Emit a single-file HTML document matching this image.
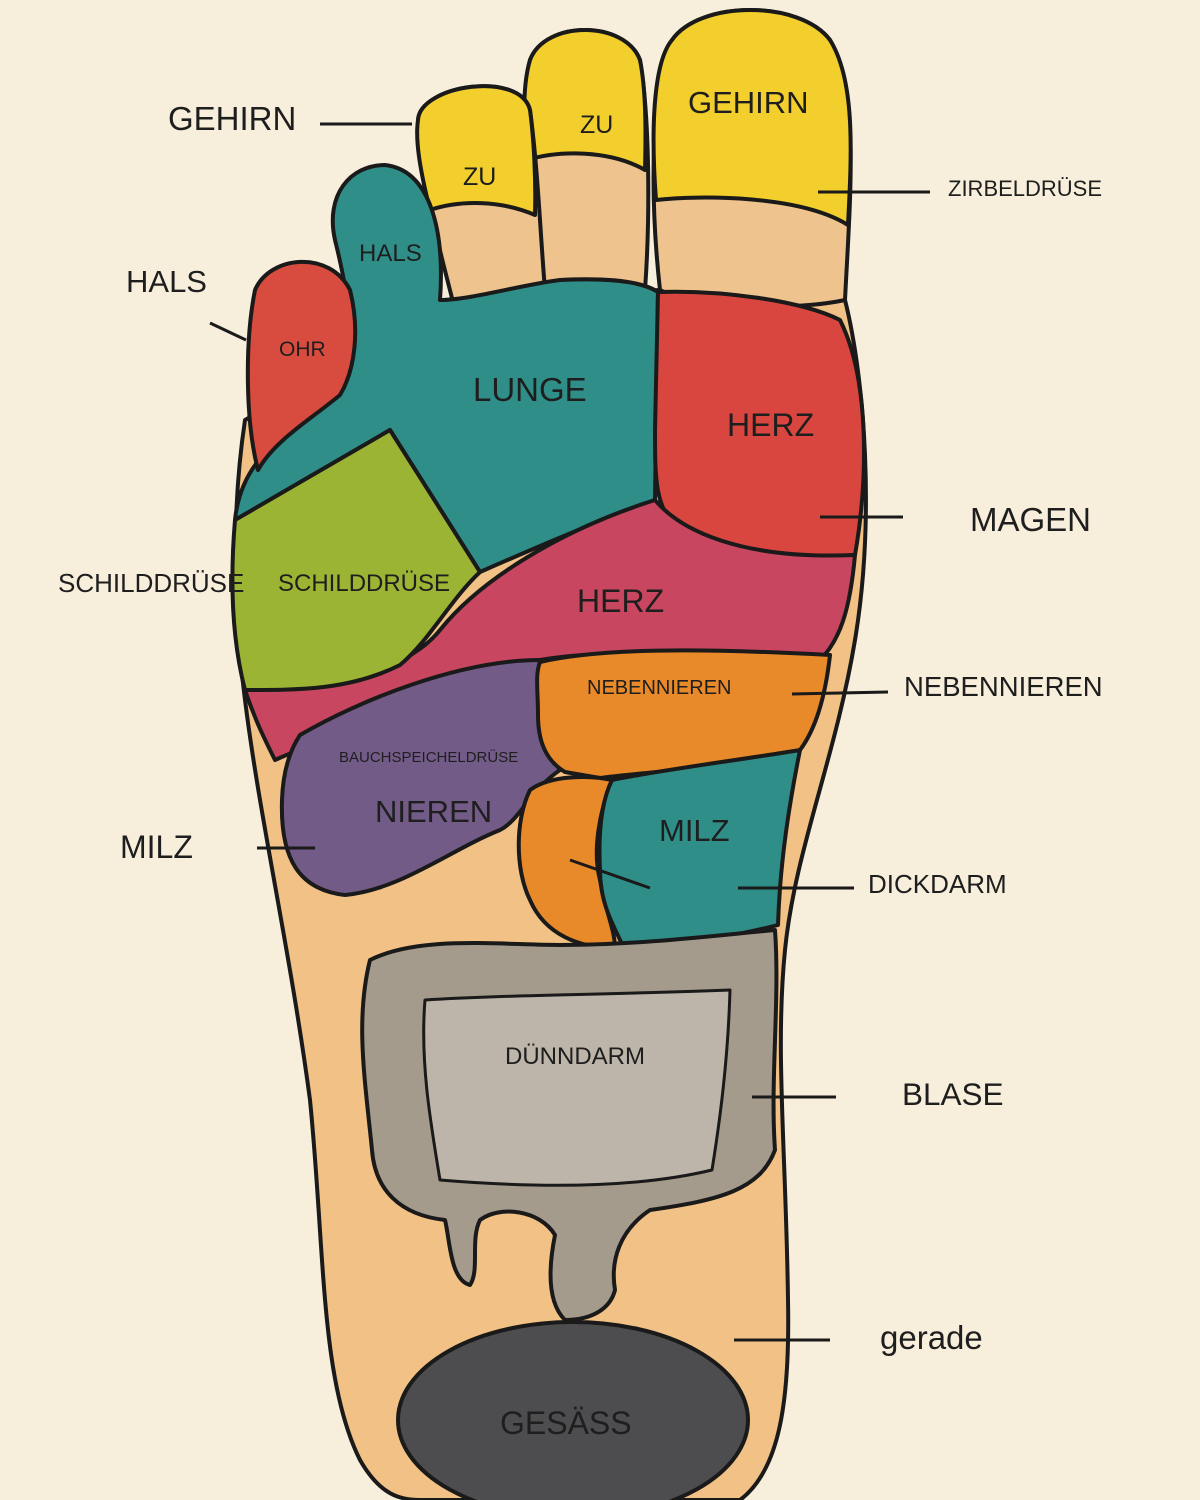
<!DOCTYPE html>
<html><head><meta charset="utf-8"><style>
html,body{margin:0;padding:0;background:#f7eedb;}
svg{display:block}
text{font-family:"Liberation Sans",sans-serif;fill:#1e1e1e;}
</style></head><body>
<svg width="1200" height="1500" viewBox="0 0 1200 1500" xmlns="http://www.w3.org/2000/svg">
<rect width="1200" height="1500" fill="#f7eedb"/>
<g stroke="#1a1a1a" stroke-width="4" stroke-linejoin="round">
<path d="M245,420 C230,520 235,620 245,700 C260,820 290,950 310,1100 C325,1250 320,1380 360,1460 C380,1495 400,1500 420,1500 L740,1500 C780,1470 790,1400 788,1300 C786,1150 775,1050 785,950 C795,850 835,760 855,640 C875,520 865,380 845,300 L660,290 L455,300 Z" fill="#f1c185"/>
<path d="M660,290 C650,200 650,90 672,40 C700,0 800,0 830,40 C860,90 850,200 845,300 C800,310 700,310 660,290 Z" fill="#eec38e"/>
<path d="M656,200 C650,120 655,60 672,40 C700,0 800,0 830,40 C855,80 852,150 848,225 C800,195 700,195 656,200 Z" fill="#f2cf2c"/>
<path d="M545,285 C528,220 520,120 530,60 C545,20 625,20 640,60 C650,120 650,220 645,290 Z" fill="#eec38e"/>
<path d="M527,160 C522,110 524,80 530,60 C545,20 625,20 640,60 C646,90 646,130 645,170 C610,150 560,150 527,160 Z" fill="#f2cf2c"/>
<path d="M455,310 C440,250 420,180 418,120 C420,85 520,70 530,110 C538,170 540,230 545,290 Z" fill="#eec38e"/>
<path d="M430,210 C420,170 415,140 418,120 C420,85 520,70 530,110 C534,140 536,180 535,215 C500,200 460,200 430,210 Z" fill="#f2cf2c"/>
<path d="M235,520 C240,470 270,440 330,400 C360,360 350,300 335,240 C325,195 350,165 385,165 C430,170 445,230 440,300 C470,300 520,285 560,280 C600,278 640,280 658,292 L655,500 C600,520 530,550 480,572 L390,430 Z" fill="#2f8f88"/>
<path d="M258,470 C245,420 245,340 255,290 C270,255 330,250 350,290 C360,330 355,370 340,395 C310,420 275,440 258,470 Z" fill="#d84c3f"/>
<path d="M658,292 C720,290 800,300 840,320 C870,380 868,480 855,555 C800,560 720,555 680,530 C655,510 655,480 655,430 Z" fill="#d8463f"/>
<path d="M245,690 C320,680 400,680 440,630 C480,580 560,530 655,500 C680,530 740,560 855,555 C850,610 840,640 820,660 C700,650 600,650 540,660 L440,700 C380,720 320,740 275,760 C265,740 255,720 245,690 Z" fill="#c94660"/>
<path d="M235,520 L390,430 L480,572 C450,600 430,640 400,665 C350,690 300,690 245,690 C232,640 230,580 235,520 Z" fill="#9cb434"/>
<path d="M300,735 C360,700 460,660 540,660 C545,700 540,740 560,770 C530,790 520,820 500,830 C450,850 400,890 345,895 C300,890 280,860 282,800 C283,770 290,750 300,735 Z" fill="#735b88"/>
<path d="M540,662 C600,648 700,648 830,655 C825,700 815,730 800,750 C740,768 660,770 600,778 L565,772 C545,760 538,740 538,715 C538,690 535,675 540,662 Z" fill="#e98a2a"/>
<path d="M530,790 C550,775 590,775 612,780 C600,810 592,850 600,880 C605,910 615,930 615,948 C580,948 545,935 530,900 C515,870 515,820 530,790 Z" fill="#e98a2a"/>
<path d="M612,780 C660,770 740,760 800,750 C790,800 780,860 778,925 C740,935 680,945 625,950 C610,920 600,900 600,870 C598,830 602,800 612,780 Z" fill="#2f8f88"/>
<path d="M370,960 C420,935 500,945 560,945 C640,945 720,935 775,930 C780,1000 770,1080 775,1150 C760,1190 720,1200 650,1210 C620,1230 610,1260 615,1290 C610,1310 590,1320 565,1320 C545,1300 550,1260 555,1235 C540,1210 500,1205 480,1220 C470,1240 480,1270 470,1285 C450,1280 450,1240 445,1220 C400,1215 375,1190 372,1150 C365,1080 355,1020 370,960 Z" fill="#a59b8c"/>
<path d="M425,1000 C500,995 600,995 730,990 C728,1060 720,1120 712,1170 C650,1185 560,1190 440,1180 C430,1120 420,1060 425,1000 Z" fill="#bdb5a9" stroke-width="3"/>
<ellipse cx="573" cy="1420" rx="175" ry="98" fill="#4d4c4e"/>
</g>
<g stroke="#1a1a1a" stroke-width="3">
<line x1="320" y1="124" x2="412" y2="124"/>
<line x1="210" y1="323" x2="246" y2="340"/>
<line x1="818" y1="192" x2="930" y2="192"/>
<line x1="820" y1="517" x2="903" y2="517"/>
<line x1="792" y1="694" x2="888" y2="692"/>
<line x1="257" y1="848" x2="315" y2="848"/>
<line x1="570" y1="860" x2="650" y2="888"/>
<line x1="738" y1="888" x2="854" y2="888"/>
<line x1="752" y1="1097" x2="836" y2="1097"/>
<line x1="734" y1="1340" x2="830" y2="1340"/>
</g>
<g font-size="30">
<text x="168" y="130" font-size="33">GEHIRN</text>
<text x="126" y="292" font-size="31">HALS</text>
<text x="970" y="531" font-size="33">MAGEN</text>
<text x="904" y="696" font-size="27.5">NEBENNIEREN</text>
<text x="120" y="858" font-size="32">MILZ</text>
<text x="868" y="893" font-size="26">DICKDARM</text>
<text x="902" y="1105" font-size="31.5">BLASE</text>
<text x="880" y="1349" font-size="33">gerade</text>
<text x="58" y="592" font-size="26">SCHILDDRÜSE</text>
<text x="948" y="196" font-size="22">ZIRBELDRÜSE</text>
<text x="688" y="113" font-size="31">GEHIRN</text>
<text x="580" y="133" font-size="25">ZU</text>
<text x="463" y="185" font-size="25">ZU</text>
<text x="359" y="261" font-size="24">HALS</text>
<text x="279" y="356" font-size="21">OHR</text>
<text x="473" y="401" font-size="33">LUNGE</text>
<text x="727" y="436" font-size="32">HERZ</text>
<text x="278" y="591" font-size="24">SCHILDDRÜSE</text>
<text x="577" y="612" font-size="32">HERZ</text>
<text x="587" y="694" font-size="20">NEBENNIEREN</text>
<text x="339" y="762" font-size="15">BAUCHSPEICHELDRÜSE</text>
<text x="375" y="822" font-size="31">NIEREN</text>
<text x="659" y="841" font-size="31">MILZ</text>
<text x="505" y="1064" font-size="24">DÜNNDARM</text>
<text x="500" y="1434" font-size="32">GESÄSS</text>
</g>
</svg>
</body></html>
